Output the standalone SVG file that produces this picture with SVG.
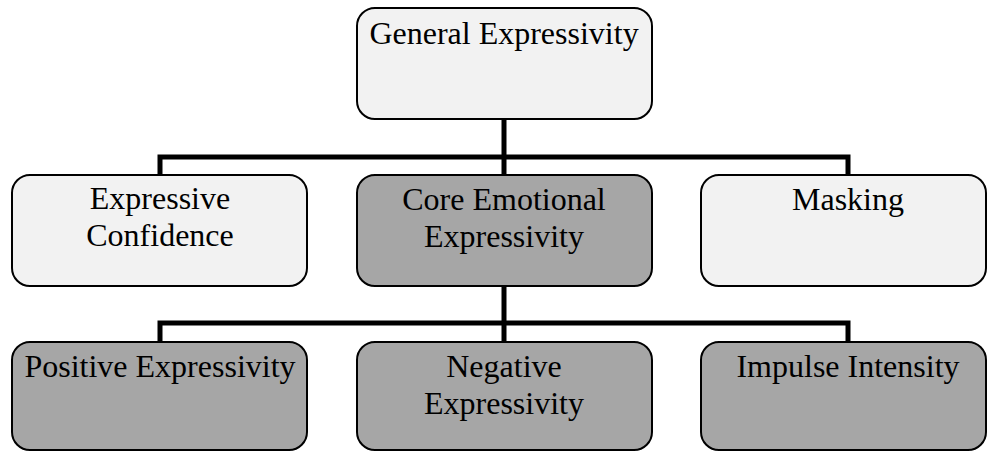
<svg xmlns="http://www.w3.org/2000/svg" width="987" height="451" viewBox="0 0 987 451">
<style>
.light{fill:#f2f2f2;stroke:#000;stroke-width:2}
.dark{fill:#a6a6a6;stroke:#000;stroke-width:2}
text{font-family:"Liberation Serif","Times New Roman",serif;font-size:32px;fill:#000;text-anchor:middle}
.conn{fill:none;stroke:#000;stroke-width:5}
</style>
<rect width="987" height="451" fill="#fff"/>
<g id="connectors">
<path class="conn" d="M504 119V174M160 174V157H848V174"/>
<path class="conn" d="M504 286V342M160 342V323H848V342"/>
</g>
<g id="general">
<rect class="light" x="357" y="8" width="295" height="111" rx="18"/>
<text x="504" y="44">General Expressivity</text>
</g>
<g id="confidence">
<rect class="light" x="12" y="175" width="295" height="111" rx="18"/>
<text x="160" y="209">Expressive</text>
<text x="160" y="246">Confidence</text>
</g>
<g id="core">
<rect class="dark" x="357" y="175" width="295" height="111" rx="18"/>
<text x="504" y="210">Core Emotional</text>
<text x="504" y="247">Expressivity</text>
</g>
<g id="masking">
<rect class="light" x="701" y="175" width="285" height="111" rx="18"/>
<text x="848" y="210">Masking</text>
</g>
<g id="positive">
<rect class="dark" x="12" y="342" width="295" height="108" rx="18"/>
<text x="160" y="377">Positive Expressivity</text>
</g>
<g id="negative">
<rect class="dark" x="357" y="342" width="295" height="108" rx="18"/>
<text x="504" y="377">Negative</text>
<text x="504" y="414">Expressivity</text>
</g>
<g id="impulse">
<rect class="dark" x="701" y="342" width="285" height="108" rx="18"/>
<text x="848" y="377">Impulse Intensity</text>
</g>
</svg>
